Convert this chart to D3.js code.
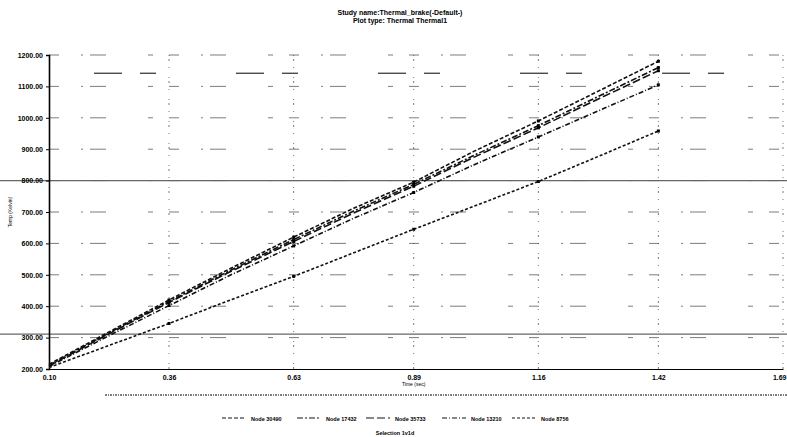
<!DOCTYPE html>
<html><head><meta charset="utf-8">
<script src="https://cdn.jsdelivr.net/npm/d3@7"></script>
<style>
html,body{margin:0;padding:0;background:#fff;}
svg{display:block;font-family:"Liberation Sans",Arial,sans-serif;}
</style></head>
<body>
<svg id="c" width="787" height="437"></svg>
<script>
const titleLines = ["Study name:Thermal_brake(-Default-)", "Plot type: Thermal Thermal1"];
const yLabel = "Temp (Kelvin)";
const xLabel = "Time (sec)";
const times = [0.10, 0.23, 0.36, 0.49, 0.63, 0.76, 0.89, 1.02, 1.16, 1.29, 1.42];
const seriesNames = ["Node 30490", "Node 17432", "Node 35733", "Node 13210", "Node 8756"];
const s1 = [215, 318, 420, 518, 620, 712, 795, 893, 990, 1085, 1180];
const s2 = [212, 315, 415, 512, 612, 703, 788, 880, 975, 1068, 1160];
const s3 = [210, 312, 412, 508, 606, 697, 782, 874, 968, 1060, 1150];
const s4 = [208, 306, 402, 497, 592, 680, 762, 850, 939, 1022, 1105];
const s5 = [205, 275, 345, 418, 495, 570, 645, 718, 797, 877, 958];
const allSeries = [s1, s2, s3, s4, s5];
const extraLegend = "Selection 1v1d";
const xTicks = [0.10, 0.36, 0.63, 0.89, 1.16, 1.42, 1.69];
const yTicks = [200, 300, 400, 500, 600, 700, 800, 900, 1000, 1100, 1200];
const scanLines = [800, 311];
const longDashLine = [1142];

const svg = d3.select("#c");
const x = d3.scaleLinear().domain([0.10, 1.69]).range([49, 783]);
const y = d3.scaleLinear().domain([200, 1200]).range([369, 55]);

// title
svg.append("g").selectAll("text").data(titleLines).join("text")
  .attr("x", 400).attr("y", (d,i)=>15+i*8).attr("text-anchor","middle")
  .attr("font-size",7).attr("font-weight","bold").text(d=>d);

// gridlines horizontal
svg.append("g").selectAll("line").data(yTicks.slice(1)).join("line")
  .attr("x1", x(0.10)).attr("x2", 787).attr("y1", d=>y(d)).attr("y2", d=>y(d))
  .attr("stroke","#444").attr("stroke-width",0.7)
  .attr("stroke-dasharray","10,22,2,7,16,42,5,16");
// gridlines vertical
svg.append("g").selectAll("line").data(xTicks.slice(1)).join("line")
  .attr("x1", d=>x(d)).attr("x2", d=>x(d)).attr("y1", y(1200)).attr("y2", y(200))
  .attr("stroke","#444").attr("stroke-width",0.7)
  .attr("stroke-dasharray","1,3,2,6,1,9");
// long dash line
svg.append("g").selectAll("line").data(longDashLine).join("line")
  .attr("x1", x(0.10)+45).attr("x2", 787).attr("y1", d=>y(d)).attr("y2", d=>y(d))
  .attr("stroke","#000").attr("stroke-width",1)
  .attr("stroke-dasharray","28,18,16,80");

// scan lines across whole width
svg.append("g").selectAll("line").data(scanLines).join("line")
  .attr("x1", 0).attr("x2", 787).attr("y1", d=>y(d)).attr("y2", d=>y(d))
  .attr("stroke","#666").attr("stroke-width",1.3);

// axes
const yAxis = d3.axisLeft(y).tickValues(yTicks).tickFormat(d3.format(".2f")).tickSize(3);
const gy = svg.append("g").attr("transform",`translate(${x(0.10)},0)`).call(yAxis);
gy.select(".domain").attr("stroke","#000").attr("stroke-width",1.6);
gy.selectAll("text").attr("font-size",7).attr("font-weight","bold").attr("font-family","Liberation Sans, Arial");

const xAxis = d3.axisBottom(x).tickValues(xTicks).tickFormat(d3.format(".2f")).tickSize(0).tickPadding(6);
const gx = svg.append("g").attr("transform",`translate(0,${y(200)})`).call(xAxis);
gx.select(".domain").attr("stroke","#000").attr("stroke-width",1.2);
gx.selectAll("text").attr("font-size",7).attr("font-weight","bold").attr("font-family","Liberation Sans, Arial");
gx.selectAll(".tick").filter(d=>d===1.69).select("text").attr("text-anchor","end").attr("dx",3);

// axis labels
svg.append("text").attr("transform",`translate(12,${y(700)}) rotate(-90)`)
  .attr("text-anchor","middle").attr("font-size",5).text(yLabel);
svg.append("text").attr("x", x(0.89)).attr("y", 386).attr("text-anchor","middle")
  .attr("font-size",5).text(xLabel);

// lines
const dashes = ["4,2", "6,2,2,2", "8,3", "5,2,1,2", "3,2"];
const line = d3.line().x((d,i)=>x(times[i])).y(d=>y(d));
const gl = svg.append("g");
allSeries.forEach((s,k)=>{
  gl.append("path").datum(s).attr("d", line).attr("fill","none")
    .attr("stroke","#111").attr("stroke-width",1.6).attr("stroke-dasharray", dashes[k]);
  const pts = s.map((v,i)=>({t:times[i], v})).filter((p,i)=>i%2===0 && i>0);
  gl.selectAll(null).data(pts).join("rect")
    .attr("x",p=>x(p.t)-1.5).attr("y",p=>y(p.v)-1.5)
    .attr("width",3).attr("height",3).attr("fill","#000");
});

// legend box top dotted line
svg.append("line").attr("x1",105).attr("x2",787).attr("y1",395).attr("y2",395)
  .attr("stroke","#000").attr("stroke-width",1).attr("stroke-dasharray","2,1,1,1");

// legend
const legendX = [222, 297, 366, 442, 512];
const lg = svg.append("g");
seriesNames.forEach((n,k)=>{
  lg.append("line").attr("x1",legendX[k]).attr("x2",legendX[k]+24).attr("y1",418).attr("y2",418)
    .attr("stroke","#111").attr("stroke-width",1).attr("stroke-dasharray",dashes[k]);
  lg.append("text").attr("x",legendX[k]+29).attr("y",420.5).attr("font-size",5.5)
    .attr("font-weight","bold").text(n);
});
lg.append("text").attr("x",395).attr("y",435).attr("text-anchor","middle").attr("font-size",5.5)
  .attr("font-weight","bold").text(extraLegend);
</script>
</body></html>
